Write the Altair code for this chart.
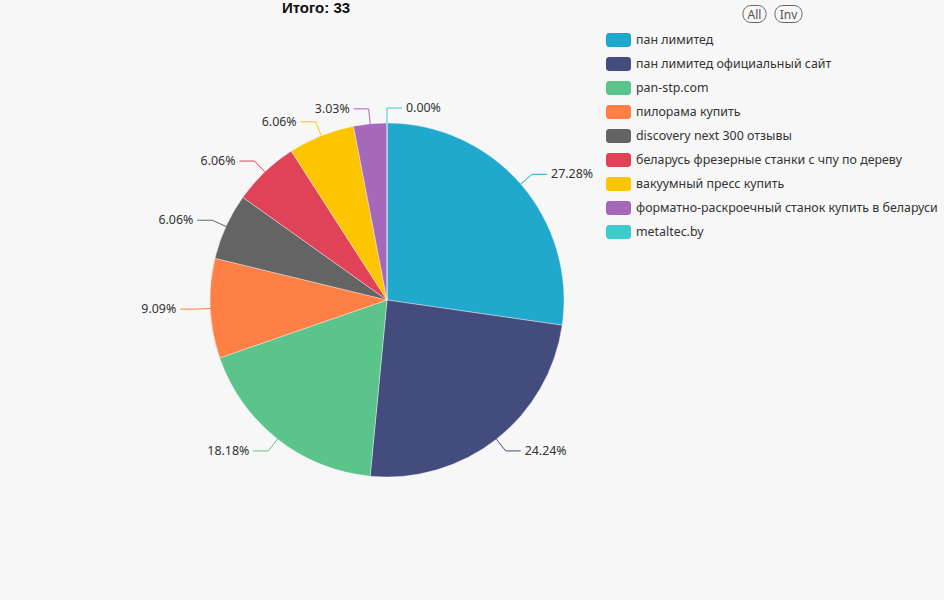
import altair as alt
import pandas as pd

# ---- data ----
categories = [
    "пан лимитед",
    "пан лимитед официальный сайт",
    "pan-stp.com",
    "пилорама купить",
    "discovery next 300 отзывы",
    "беларусь фрезерные станки с чпу по дереву",
    "вакуумный пресс купить",
    "форматно-раскроечный станок купить в беларуси",
    "metaltec.by",
]
values = [9, 8, 6, 3, 2, 2, 2, 1, 0]
pct_labels = ["27.28%", "24.24%", "18.18%", "9.09%", "6.06%", "6.06%", "6.06%", "3.03%", "0.00%"]
colors = ["#20a8cd", "#434c7c", "#5ac48a", "#ff7f45", "#646464",
          "#e04358", "#fdc500", "#a668b8", "#3dcbcb"]
title_text = "Итого: 33"
buttons = ["All", "Inv"]

df = pd.DataFrame({"cat": categories, "value": values, "label": pct_labels,
                   "idx": list(range(len(categories)))})

# ---- layout constants ----
CX, CY, R = 387, 300, 177
L1, L2 = 15, 15
FONT = "Noto Sans"
FS = 12.4
BG = "#f7f7f7"

color = alt.Color("cat:N", scale=alt.Scale(domain=categories, range=colors), legend=None)

pie = alt.Chart(df).mark_arc(outerRadius=R, stroke=BG, strokeWidth=0.4).encode(
    theta=alt.Theta("value:Q", stack=True),
    order=alt.Order("idx:Q"),
    color=color,
    x=alt.value(CX),
    y=alt.value(CY),
)

geo = (
    alt.Chart(df)
    .transform_window(cum="sum(value)", sort=[alt.SortField("idx")], frame=[None, 0])
    .transform_joinaggregate(total="sum(value)")
    .transform_calculate(mid="(datum.cum - datum.value/2)/datum.total*2*PI")
    .transform_calculate(s="sin(datum.mid)", c="cos(datum.mid)")
    .transform_calculate(
        side="datum.s >= -0.001 ? 1 : -1",
        ex=f"{CX} + {R}*datum.s",
        ey=f"{CY} - {R}*datum.c",
        bx=f"{CX} + {R + L1}*datum.s",
        by=f"{CY} - {R + L1}*datum.c",
    )
    .transform_calculate(tx=f"datum.bx + datum.side*{L2}")
    .transform_calculate(lx="datum.tx + datum.side*4")
)

line1 = geo.mark_rule(strokeWidth=1).encode(
    x=alt.X("ex:Q", scale=None, axis=None), y=alt.Y("ey:Q", scale=None, axis=None),
    x2="bx:Q", y2="by:Q", color=color,
)
line2 = geo.mark_rule(strokeWidth=1).encode(
    x=alt.X("bx:Q", scale=None, axis=None), y=alt.Y("by:Q", scale=None, axis=None),
    x2="tx:Q", y2="by:Q", color=color,
)
txt_r = geo.transform_filter("datum.side > 0").mark_text(
    align="left", baseline="middle", font=FONT, fontSize=FS, color="#333333"
).encode(x=alt.X("lx:Q", scale=None, axis=None), y=alt.Y("by:Q", scale=None, axis=None), text="label:N")
txt_l = geo.transform_filter("datum.side < 0").mark_text(
    align="right", baseline="middle", font=FONT, fontSize=FS, color="#333333"
).encode(x=alt.X("lx:Q", scale=None, axis=None), y=alt.Y("by:Q", scale=None, axis=None), text="label:N")

# ---- legend ----
leg = alt.Chart(df).transform_calculate(
    yc="40 + 24*datum.idx", y0="33 + 24*datum.idx", y1="47 + 24*datum.idx"
)
leg_rect = leg.mark_rect(cornerRadius=3).encode(
    x=alt.value(606), x2=alt.value(631),
    y=alt.Y("y0:Q", scale=None, axis=None), y2="y1:Q", color=color,
)
leg_text = leg.mark_text(align="left", baseline="middle", font=FONT, fontSize=FS, color="#333333").encode(
    x=alt.value(636), y=alt.Y("yc:Q", scale=None, axis=None), text="cat:N"
)

bdf = pd.DataFrame({"b": buttons, "i": list(range(len(buttons)))})
bt = alt.Chart(bdf).transform_calculate(
    bxc="754.5 + 34*datum.i", bw="datum.i == 0 ? 11.5 : 13.5"
).transform_calculate(bx0="datum.bxc - datum.bw", bx1="datum.bxc + datum.bw")
btn_rect = bt.mark_rect(cornerRadius=8, fill=None, stroke="#666666", strokeWidth=1).encode(
    x=alt.X("bx0:Q", scale=None, axis=None), x2="bx1:Q", y=alt.value(5.5), y2=alt.value(22.5)
)
btn_text = bt.mark_text(align="center", baseline="middle", font=FONT, fontSize=12, color="#555555").encode(
    x=alt.X("bxc:Q", scale=None, axis=None), y=alt.value(14.5), text="b:N"
)

title = alt.Chart(pd.DataFrame({"t": [title_text]})).mark_text(
    font="Liberation Sans", fontSize=15, fontWeight="bold", color="#111111", baseline="middle"
).encode(x=alt.value(316), y=alt.value(8), text="t:N")

chart = alt.layer(
    pie, line1, line2, txt_r, txt_l, leg_rect, leg_text, btn_rect, btn_text, title
).properties(
    width=944, height=600, background=BG, padding=0, autosize="none"
).configure_view(stroke=None)

chart.save("out.html", embed_options={"renderer": "svg", "actions": False})
